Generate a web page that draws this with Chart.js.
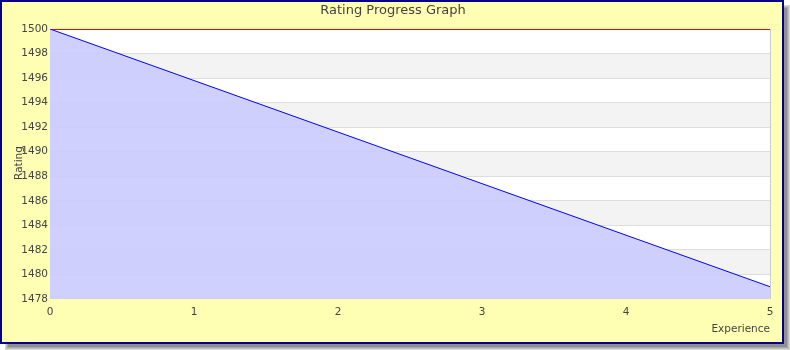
<!DOCTYPE html>
<html>
<head>
<meta charset="utf-8">
<script src="https://cdn.jsdelivr.net/npm/chart.js@4"></script>
<style>
  body { margin: 0; background: #fff; }
  #wrap { width: 790px; height: 350px; }
</style>
</head>
<body>
<div id="wrap"><canvas id="ratingChart" width="790" height="350"></canvas></div>
<script>
// data
var experience = [0, 5];
var rating = [1500, 1479];
var yTicks = [1478, 1480, 1482, 1484, 1486, 1488, 1490, 1492, 1494, 1496, 1498, 1500];
var xTicks = [0, 1, 2, 3, 4, 5];

var FONT = "'DejaVu Sans', sans-serif";

// frame, shadow, title and bands
var framePlugin = {
  id: "frame",
  beforeDraw: function(chart) {
    var c = chart.ctx;
    c.save();
    // shadow
    var greys = ["#d8d8d8", "#c0c0c0", "#a8a8a8", "#909090"];
    for (var i = 0; i < greys.length; i++) {
      c.fillStyle = greys[i];
      c.fillRect(5 + i, 5 + i, 785 - 2 * i, 345 - 2 * i);
    }
    c.fillStyle = "#FFFFB3";
    c.fillRect(0, 0, 784, 344);
    c.strokeStyle = "#00008B";
    c.lineWidth = 2;
    c.strokeRect(1, 1, 782, 342);

    // alternating bands
    var a = chart.chartArea;
    var y = chart.scales.y;
    for (var k = 0; k < yTicks.length - 1; k++) {
      var top = y.getPixelForValue(yTicks[k + 1]);
      var bot = y.getPixelForValue(yTicks[k]);
      c.fillStyle = (k % 2 === 0) ? "#ffffff" : "#f3f3f3";
      c.fillRect(a.left, top, a.right - a.left, bot - top);
    }

    // title
    c.fillStyle = "#444";
    c.font = "13px " + FONT;
    c.textAlign = "center";
    c.textBaseline = "middle";
    c.fillText("Rating Progress Graph", 393, 11);

    // axis titles
    c.font = "10.5px " + FONT;
    c.textAlign = "right";
    c.textBaseline = "middle";
    c.fillText("Experience", a.right, 329);
    c.translate(19, 163);
    c.rotate(-Math.PI / 2);
    c.textAlign = "center";
    c.fillText("Rating", 0, 0);
    c.restore();
  }
};

var ctx = document.getElementById("ratingChart").getContext("2d");
var myChart = new Chart(ctx, {
  type: "line",
  data: {
    datasets: [
      {
        label: "Rating",
        data: experience.map(function(x, i) { return { x: x, y: rating[i] }; }),
        borderColor: "#0000ff",
        borderWidth: 1,
        backgroundColor: "rgba(203, 203, 255, 0.9)",
        fill: "start",
        pointRadius: 0,
        tension: 0
      }
    ]
  },
  options: {
    responsive: false,
    animation: false,
    layout: { padding: { top: 29, right: 20, left: 0, bottom: 0 } },
    plugins: {
      legend: { display: false },
      title: { display: false },
      tooltip: { enabled: false }
    },
    scales: {
      x: {
        type: "linear",
        min: 0,
        max: 5,
        afterFit: function(s) { s.height = 51; },
        afterBuildTicks: function(s) { s.ticks = xTicks.map(function(v) { return { value: v }; }); },
        border: { display: false },
        grid: {
          drawTicks: false,
          color: function(c) { return c.tick && c.tick.value === 5 ? "#cccccc" : "rgba(0,0,0,0)"; }
        },
        ticks: {
          padding: 7,
          color: "#444",
          maxRotation: 0,
          font: { family: FONT, size: 10.5 }
        }
      },
      y: {
        min: 1478,
        max: 1500,
        afterFit: function(s) { s.width = 50; },
        afterBuildTicks: function(s) { s.ticks = yTicks.map(function(v) { return { value: v }; }); },
        border: { display: false },
        grid: {
          drawTicks: false,
          color: function(c) { return c.tick && c.tick.value === 1500 ? "#ff0000" : "#dddddd"; },
          lineWidth: function(c) { return c.tick && c.tick.value === 1478 ? 0 : 1; }
        },
        ticks: {
          padding: 2,
          color: "#444",
          font: { family: FONT, size: 10.5 },
          callback: function(v) { return v; }
        }
      }
    }
  },
  plugins: [framePlugin]
});
</script>
</body>
</html>
